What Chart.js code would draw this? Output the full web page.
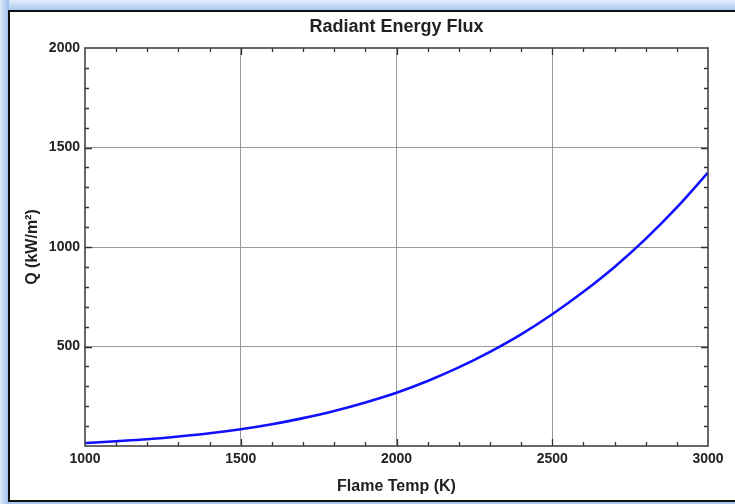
<!DOCTYPE html>
<html>
<head>
<meta charset="utf-8">
<script src="https://cdn.jsdelivr.net/npm/chart.js@4"></script>
<style>
    body { margin: 0; background: #fff; }
    #wrap {
        position: relative; width: 735px; height: 504px; overflow: hidden;
        background: linear-gradient(to bottom, #e4eefb 0px, #a9c8ef 10px, #a9c8ef 100%);
    }
    #strip {
        position: absolute; left: 0; top: 0; width: 9px; height: 504px;
        background: linear-gradient(to right, #dfeafa 0px, #9fc1ee 8px);
    }
    #frame {
        position: absolute; left: 8px; top: 10px; width: 740px; height: 488px;
        border-top: 2px solid #111; border-left: 2px solid #111; border-bottom: 2px solid #111;
        background: #fff;
    }
    #chart { position: absolute; left: 0; top: 0; }
</style>
</head>
<body>
<div id="wrap">
    <div id="strip"></div>
    <div id="frame"></div>
    <canvas id="chart" width="735" height="504"></canvas>
</div>
<script>
// flame temperature (K)
const temps = [1000, 1100, 1200, 1300, 1400, 1500, 1600, 1700, 1800, 1900, 2000,
               2100, 2200, 2300, 2400, 2500, 2600, 2700, 2800, 2900, 3000];
// radiant flux Q (kW/m^2)
const flux = [15, 24, 34, 48, 64, 84, 109, 140, 176, 219, 268,
              327, 395, 473, 561, 662, 775, 900, 1041, 1199, 1374];

const xMajor = 500, yMajor = 500, minorStep = 100;
const fontFam = 'Liberation Sans, Arial, sans-serif';

// Mathematica-like inward ticks on all four sides + frame
const frameTicks = {
    id: 'frameTicks',
    afterDraw(chart) {
        const ctx = chart.ctx;
        const a = chart.chartArea;
        const xs = chart.scales.x, ys = chart.scales.y;
        ctx.save();
        ctx.strokeStyle = '#333';
        ctx.lineWidth = 1.3;
        for (let v = xs.min + minorStep; v < xs.max; v += minorStep) {
            const px = Math.round(xs.getPixelForValue(v)) + 0.5;
            const len = v % xMajor === 0 ? 7 : 4;
            ctx.beginPath();
            ctx.moveTo(px, a.bottom); ctx.lineTo(px, a.bottom - len);
            ctx.moveTo(px, a.top); ctx.lineTo(px, a.top + len);
            ctx.stroke();
        }
        for (let v = ys.min + minorStep; v < ys.max; v += minorStep) {
            const py = Math.round(ys.getPixelForValue(v)) + 0.5;
            const len = v % yMajor === 0 ? 7 : 4;
            ctx.beginPath();
            ctx.moveTo(a.left, py); ctx.lineTo(a.left + len, py);
            ctx.moveTo(a.right, py); ctx.lineTo(a.right - len, py);
            ctx.stroke();
        }
        ctx.strokeStyle = '#444';
        ctx.lineWidth = 1.6;
        ctx.strokeRect(a.left, a.top, a.right - a.left, a.bottom - a.top);
        ctx.restore();
    }
};

const tickFont = { family: fontFam, size: 14, weight: 'bold' };
const axisFont = { family: fontFam, size: 16, weight: 'bold' };

new Chart(document.getElementById('chart'), {
    type: 'line',
    data: {
        datasets: [{
            data: temps.map((t, i) => ({ x: t, y: flux[i] })),
            borderColor: '#1010ff',
            borderWidth: 2.6,
            pointRadius: 0,
            cubicInterpolationMode: 'monotone',
            fill: false
        }]
    },
    options: {
        responsive: false,
        animation: false,
        layout: { padding: { top: 0, right: 27, bottom: 0, left: 0 } },
        plugins: {
            legend: { display: false },
            tooltip: { enabled: false },
            title: {
                display: true,
                fullSize: false,
                text: 'Radiant Energy Flux',
                color: '#222',
                font: { family: fontFam, size: 18, weight: 'bold' },
                padding: { top: 16.7, bottom: 9.7 }
            }
        },
        scales: {
            x: {
                type: 'linear',
                min: 1000, max: 3000,
                afterFit(scale) { scale.height = 58; },
                border: { display: false },
                grid: {
                    drawTicks: false,
                    color: c => (c.tick.value > 1000 && c.tick.value < 3000) ? '#999' : 'rgba(0,0,0,0)',
                    lineWidth: 1
                },
                ticks: {
                    stepSize: xMajor, padding: 5, color: '#222', font: tickFont, maxRotation: 0,
                    callback: v => String(v)
                },
                title: {
                    display: true, text: 'Flame Temp (K)', color: '#222',
                    font: axisFont,
                    padding: { top: 4, bottom: 7.4 }
                }
            },
            y: {
                min: 0, max: 2000,
                afterFit(scale) { scale.width = 85; },
                border: { display: false },
                grid: {
                    drawTicks: false,
                    color: c => (c.tick.value > 0 && c.tick.value < 2000) ? '#999' : 'rgba(0,0,0,0)',
                    lineWidth: 1
                },
                ticks: {
                    stepSize: yMajor, padding: 5, color: '#222', font: tickFont,
                    callback: v => v === 0 ? '' : String(v)
                },
                title: {
                    display: true, text: 'Q (kW/m²)', color: '#222',
                    font: axisFont,
                    padding: { top: 23.4, bottom: 0 }
                }
            }
        }
    },
    plugins: [frameTicks]
});
</script>
</body>
</html>
